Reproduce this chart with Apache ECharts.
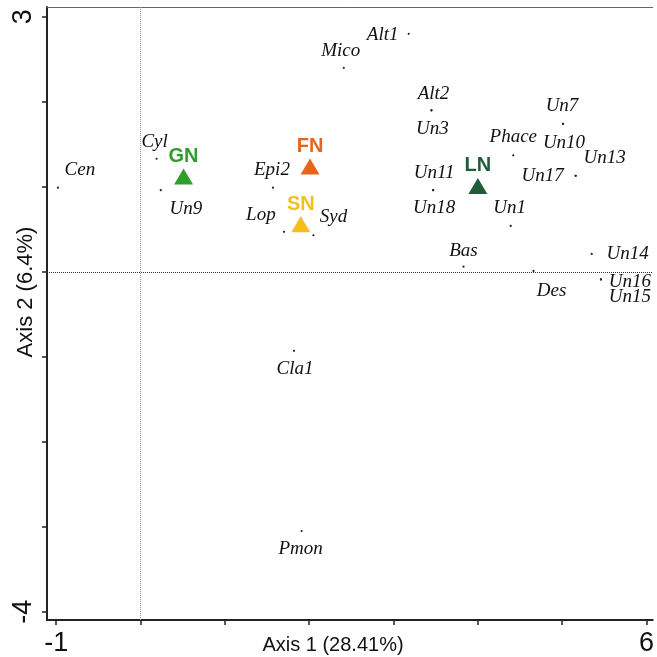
<!DOCTYPE html>
<html><head><meta charset="utf-8">
<script src="https://cdn.jsdelivr.net/npm/echarts@6/dist/echarts.min.js"></script>
<style>html,body{margin:0;padding:0;background:#fff}#c{width:657px;height:657px}</style>
</head><body><div id="c"></div>
<script>
// ---- data ----
const speciesNames = ['Cen','Cyl','Un9','Epi2','Lop','Syd','Mico','Alt1','Alt2','Un3','Un11','Un18','Phace','Un7','Un10','Un13','Un17','Un1','Bas','Des','Un14','Un16','Un15','Cla1','Pmon'];
const speciesAxis1 = [-0.98,0.19,0.24,1.57,1.70,2.05,2.41,3.18,3.45,3.45,3.47,3.47,4.42,5.01,5.01,5.16,5.16,4.39,3.83,4.66,5.35,5.46,5.46,1.82,1.91];
const speciesAxis2 = [0.99,1.33,0.96,0.99,0.47,0.43,2.40,2.80,1.90,1.90,0.96,0.96,1.37,1.74,1.74,1.13,1.13,0.54,0.06,0.01,0.21,-0.09,-0.09,-0.93,-3.05];
const groupNames = ['GN','FN','SN','LN'];
const groupAxis1 = [0.51,2.01,1.90,4.00];
const groupAxis2 = [1.12,1.24,0.56,1.01];
const axis1Ticks = [-1,0,1,2,3,4,5,6];
const axis2Ticks = [-4,-3,-2,-1,0,1,2,3];
const axis1Labels = [-1,6];
const axis2Labels = [-4,3];
const axis1Title = 'Axis 1 (28.41%)';
const axis2Title = 'Axis 2 (6.4%)';

// ---- layout / style (not data) ----
const groupColors = ['#2f9e2a','#e8661c','#f6be1a','#1f5c38'];
const labelOffsets = [
  [22,-18],[-2,-17],[25,19],[-1,-18],[-23,-17],[20,-18],[-3,-17],[-26,1],[2,-16],[1,19],
  [1,-17],[1,18],[0,-18],[-1,-18],[1,19],[29,-18],[-33,0],[-1,-18],[0,-16],[18,20],
  [36,0],[29,3],[29,18],[1,18],[-1,18]
];

const speciesData = speciesNames.map((n,i)=>({name:n, value:[speciesAxis1[i], speciesAxis2[i]]}));
const groupData = groupNames.map((n,i)=>({
  name:n, value:[groupAxis1[i], groupAxis2[i]],
  itemStyle:{color:groupColors[i], opacity:1},
  label:{color:groupColors[i]}
}));

const FONT_SANS = 'Liberation Sans, Arial, sans-serif';
const chart = echarts.init(document.getElementById('c'), null, {renderer:'canvas'});
chart.setOption({
  animation:false,
  backgroundColor:'#fff',
  grid:{left:47, right:0, top:7, bottom:36},
  xAxis:[{
    type:'value', position:'bottom', min:-1.1095, max:6.074,
    axisLine:{show:true, onZero:false, lineStyle:{color:'#222', width:2}},
    axisTick:{show:true, length:5, customValues:axis1Ticks, lineStyle:{color:'#222', width:1.5}},
    axisLabel:{show:true, customValues:axis1Labels, margin:10, fontSize:27, color:'#111', fontFamily:FONT_SANS},
    splitLine:{show:false}
  },{
    type:'value', position:'top', min:-1.1095, max:6.074,
    axisLine:{show:true, onZero:false, lineStyle:{color:'#666', width:1}},
    axisTick:{show:false}, axisLabel:{show:false}, splitLine:{show:false}
  }],
  yAxis:{
    type:'value', min:-4.0975, max:3.116,
    axisLine:{show:true, onZero:false, lineStyle:{color:'#222', width:2}},
    axisTick:{show:true, length:5, customValues:axis2Ticks, lineStyle:{color:'#222', width:1.5}},
    axisLabel:{show:true, customValues:axis2Labels, rotate:90, margin:10, fontSize:27, color:'#111', fontFamily:FONT_SANS},
    splitLine:{show:false}
  },
  graphic:[
    {type:'text', x:333, y:645, style:{text:axis1Title, fontSize:20, fill:'#111', align:'center', verticalAlign:'middle', fontFamily:FONT_SANS}},
    {type:'text', x:26, y:292, rotation:Math.PI/2, style:{text:axis2Title, fontSize:22, fill:'#111', align:'center', verticalAlign:'middle', fontFamily:FONT_SANS}}
  ],
  series:[{
    type:'scatter', name:'species', xAxisIndex:0,
    symbol:'circle', symbolSize:2.2,
    itemStyle:{color:'#222', opacity:1},
    label:{show:true, position:'inside', formatter:'{b}', align:'center', verticalAlign:'middle',
      fontFamily:'Liberation Serif, Times New Roman, serif', fontStyle:'italic', fontSize:19, color:'#111'},
    labelLayout:function(p){ const o = labelOffsets[p.dataIndex]; return {dx:o[0], dy:o[1], hideOverlap:false}; },
    markLine:{
      silent:true, symbol:'none', label:{show:false},
      lineStyle:{type:'dotted', width:1},
      data:[
        {xAxis:0, lineStyle:{color:'#9a9a9a', type:'dotted', width:1}},
        {yAxis:0, lineStyle:{color:'#333', type:'dotted', width:1}}
      ]
    },
    data:speciesData,
    z:3
  },{
    type:'scatter', name:'groups', xAxisIndex:0,
    symbol:'triangle', symbolSize:[19,16],
    itemStyle:{opacity:1},
    label:{show:true, position:'top', distance:2, formatter:'{b}', fontFamily:FONT_SANS, fontWeight:'bold', fontSize:20},
    data:groupData,
    z:5
  }]
});
</script>
</body></html>
